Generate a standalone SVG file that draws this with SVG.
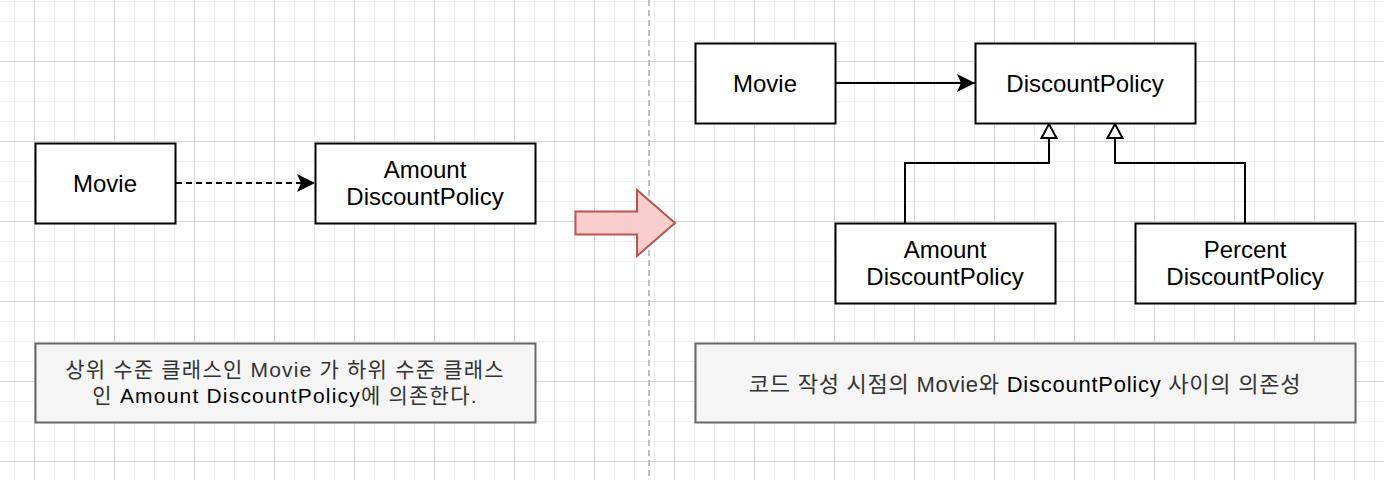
<svg xmlns="http://www.w3.org/2000/svg" width="1384" height="480" viewBox="0 0 1384 480">
  <style>
    .box { fill: #ffffff; stroke: #000000; stroke-width: 2; }
    .note { fill: #f5f5f5; stroke: #666666; stroke-width: 2; }
    .label { font-family: "Liberation Sans", "Noto Sans CJK KR", sans-serif; font-size: 24px; fill: #000000; text-anchor: middle; }
    .cap { font-family: "Liberation Sans", "Noto Sans CJK KR", sans-serif; fill: #333333; text-anchor: middle; }
    .capl { font-size: 21px; letter-spacing: 1.2px; }
    .capr { font-size: 22px; letter-spacing: 0.75px; }
    .dark { fill: #000000; }
    .edge { fill: none; stroke: #000000; stroke-width: 2; }
  </style>
  <defs>
    <pattern id="minor" x="14" y="1" width="20" height="20" patternUnits="userSpaceOnUse">
      <path d="M0.5 0 V20 M0 0.5 H20" fill="none" stroke="#f0f0f0" stroke-width="1"/>
    </pattern>
    <pattern id="major" x="34" y="61" width="80" height="80" patternUnits="userSpaceOnUse">
      <path d="M0.5 0 V80 M0 0.5 H80" fill="none" stroke="#d4d4d4" stroke-width="1"/>
    </pattern>
    <marker id="classic" markerUnits="userSpaceOnUse" markerWidth="18" markerHeight="18" viewBox="0 0 18 18" refX="18" refY="9" orient="auto" overflow="visible">
      <path d="M0 0 L18 9 L0 18 L4 9 Z" fill="#000000" stroke="none"/>
    </marker>
    <marker id="hollow" markerUnits="userSpaceOnUse" markerWidth="14" markerHeight="15" viewBox="0 0 14 15" refX="14" refY="7.5" orient="auto" overflow="visible">
      <path d="M0 0 L14 7.5 L0 15 Z" fill="#ffffff" stroke="#000000" stroke-width="2"/>
    </marker>
  </defs>

  <rect x="0" y="0" width="1384" height="480" fill="#ffffff"/>
  <rect x="0" y="0" width="1384" height="480" fill="url(#minor)"/>
  <rect x="0" y="0" width="1384" height="480" fill="url(#major)"/>

  <line x1="649" y1="0" x2="649" y2="480" stroke="#c0c0c0" stroke-width="2" stroke-dasharray="6 4"/>

  <g id="connectors">
    <line class="edge" x1="176" y1="183" x2="315" y2="183" stroke-dasharray="6 4" marker-end="url(#classic)"/>
    <line class="edge" x1="836" y1="83" x2="975" y2="83" marker-end="url(#classic)"/>
    <path class="edge" d="M905 223 V163 H1049 V124" marker-end="url(#hollow)"/>
    <path class="edge" d="M1245 223 V163 H1115 V124" marker-end="url(#hollow)"/>
  </g>

  <g id="transition-arrow">
    <polygon points="575.5,211.5 637,211.5 637,190 675,223 637,256 637,234.5 575.5,234.5" fill="#f8cecc" stroke="#b85450" stroke-width="2" stroke-linejoin="miter"/>
  </g>

  <g id="movie-left">
    <rect class="box" x="35.5" y="143.5" width="140" height="80"/>
    <text class="label" x="105" y="192">Movie</text>
  </g>
  <g id="amount-left">
    <rect class="box" x="315.5" y="143.5" width="220" height="80"/>
    <text class="label" x="425" y="178">Amount</text>
    <text class="label" x="425" y="205">DiscountPolicy</text>
  </g>
  <g id="note-left">
    <rect class="note" x="35.5" y="343.5" width="500" height="79"/>
    <text class="cap capl" x="285" y="377">상위 수준 클래스인 Movie 가 하위 수준 클래스</text>
    <text class="cap capl" x="285" y="403">인 <tspan class="dark">Amount DiscountPolicy</tspan>에 의존한다.</text>
  </g>

  <g id="movie-right">
    <rect class="box" x="695.5" y="43.5" width="140" height="80"/>
    <text class="label" x="765" y="92">Movie</text>
  </g>
  <g id="discountpolicy">
    <rect class="box" x="975.5" y="43.5" width="220" height="80"/>
    <text class="label" x="1085" y="92">DiscountPolicy</text>
  </g>
  <g id="amount-right">
    <rect class="box" x="835.5" y="223.5" width="220" height="80"/>
    <text class="label" x="945" y="258">Amount</text>
    <text class="label" x="945" y="285">DiscountPolicy</text>
  </g>
  <g id="percent-right">
    <rect class="box" x="1135.5" y="223.5" width="220" height="80"/>
    <text class="label" x="1245" y="258">Percent</text>
    <text class="label" x="1245" y="285">DiscountPolicy</text>
  </g>
  <g id="note-right">
    <rect class="note" x="695.5" y="343.5" width="660" height="79"/>
    <text class="cap capr" x="1025" y="392">코드 작성 시점의 Movie와 <tspan class="dark">DiscountPolicy</tspan> 사이의 의존성</text>
  </g>
</svg>
